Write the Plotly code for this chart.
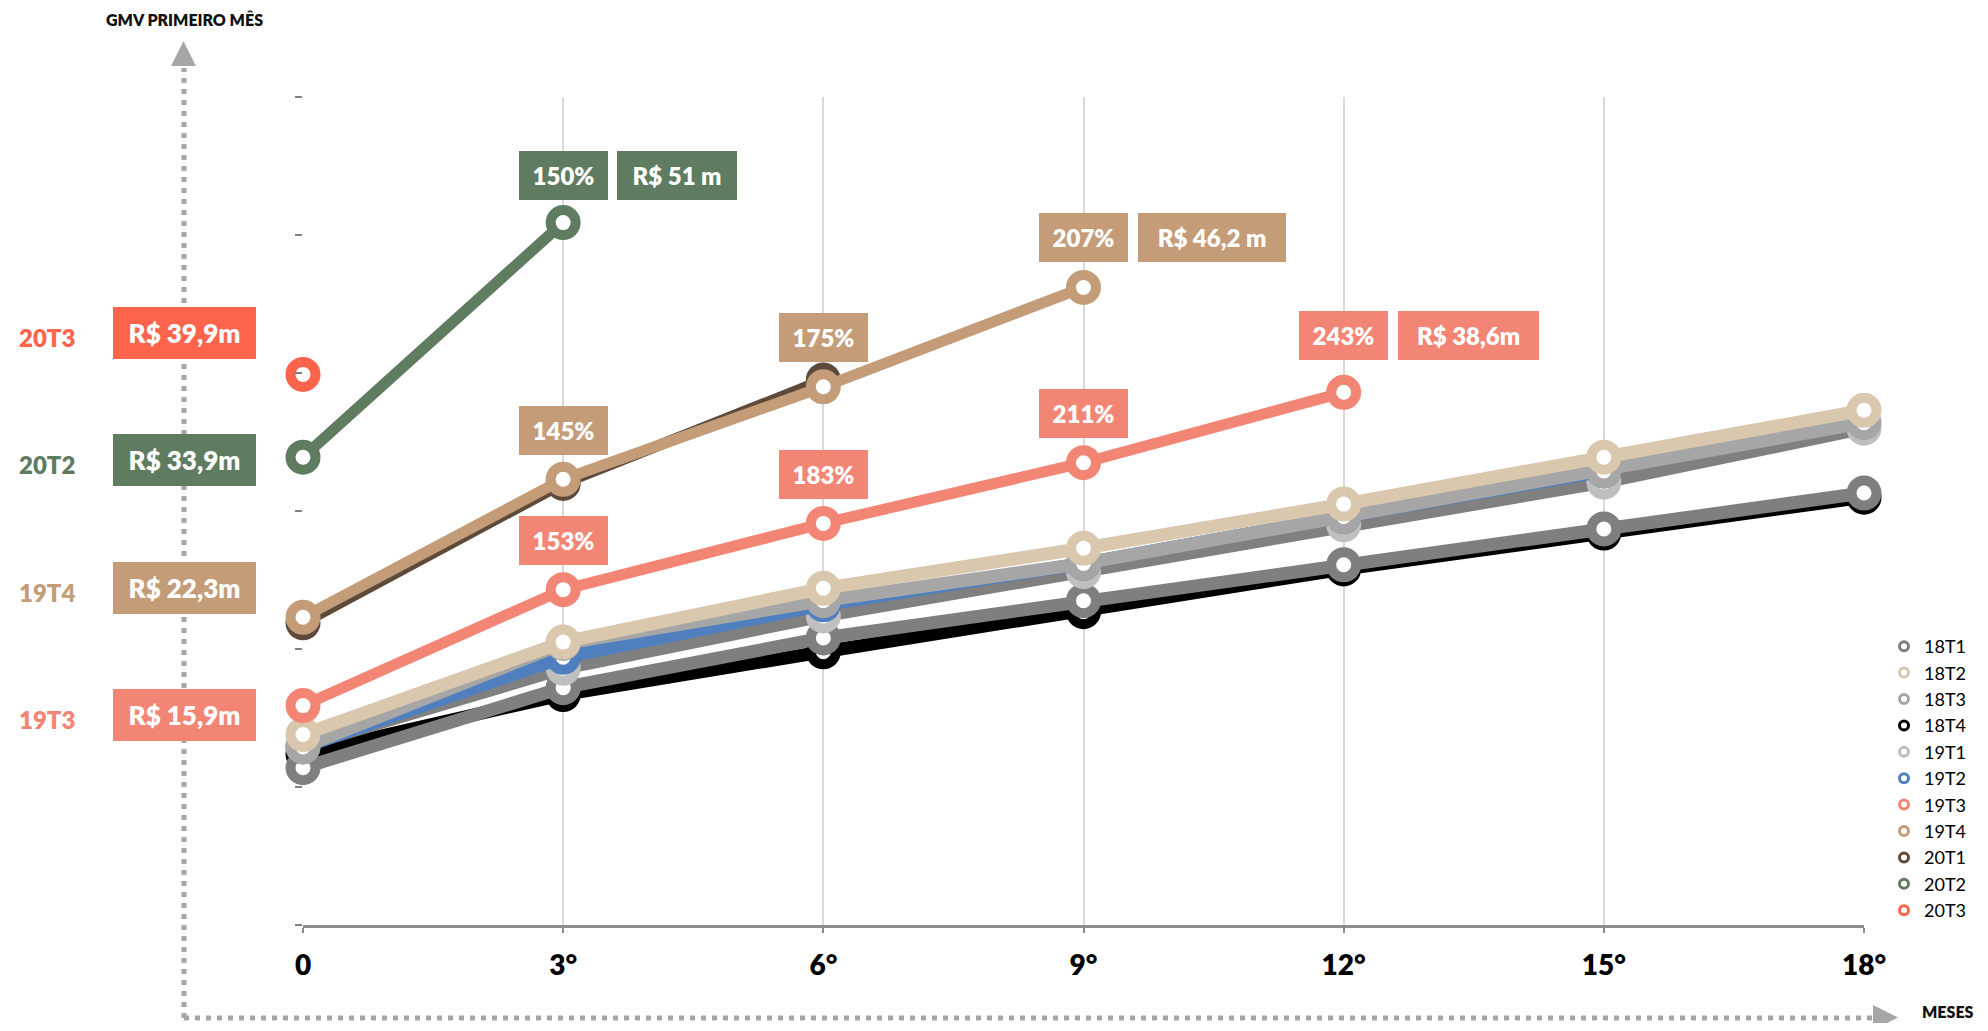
import plotly.graph_objects as go

# meses desde o primeiro mês
meses = [0, 3, 6, 9, 12, 15, 18]
mes_labels = ['0', '3°', '6°', '9°', '12°', '15°', '18°']

safras = ['18T1', '18T2', '18T3', '18T4', '19T1', '19T2', '19T3', '19T4', '20T1', '20T2', '20T3']

# GMV (R$ milhões) por safra
gmv_18T1 = [11.4, 17.2, 20.8, 23.5, 26.1, 28.7, 31.3]
gmv_18T2 = [13.8, 20.5, 24.4, 27.3, 30.5, 33.9, 37.3]
gmv_18T3 = [12.9, 20.4, 23.5, 26.2, 29.6, 32.9, 36.4]
gmv_18T4 = [12.4, 16.7, 19.8, 22.7, 25.8, 28.4, 31.0]
gmv_19T1 = [13.0, 18.6, 22.4, 25.6, 29.0, 32.1, 36.0]
gmv_19T2 = [12.9, 19.4, 23.2, 26.2, 29.6, 32.9]
gmv_19T3 = [15.9, 24.3, 29.1, 33.5, 38.6]
gmv_19T4 = [22.3, 32.3, 39.0, 46.2]
gmv_20T1 = [21.9, 32.0, 39.5]
gmv_20T2 = [33.9, 50.9]
gmv_20T3 = [39.9]

gmv = {'18T1': gmv_18T1, '18T2': gmv_18T2, '18T3': gmv_18T3, '18T4': gmv_18T4,
       '19T1': gmv_19T1, '19T2': gmv_19T2, '19T3': gmv_19T3, '19T4': gmv_19T4,
       '20T1': gmv_20T1, '20T2': gmv_20T2, '20T3': gmv_20T3}

cores = {'18T1': '#7f7f7f', '18T2': '#d9c7ae', '18T3': '#a6a6a6', '18T4': '#000000',
         '19T1': '#bfbfbf', '19T2': '#4f7fbf', '19T3': '#f38574', '19T4': '#c49c78',
         '20T1': '#5e4a3a', '20T2': '#5f7b60', '20T3': '#fe634c'}
# a linha da 19T1 sai mais escura que o marcador
cor_linha = dict(cores, **{'19T1': '#808080'})

# crescimento sobre o primeiro mês
pct_20T2 = ['150%']
pct_19T4 = ['145%', '175%', '207%']
pct_19T3 = ['153%', '183%', '211%', '243%']
ultimo_gmv = {'20T2': 'R$ 51 m', '19T4': 'R$ 46,2 m', '19T3': 'R$ 38,6m'}

# primeiro mês das safras em destaque
destaque = ['20T3', '20T2', '19T4', '19T3']
destaque_gmv = ['R$ 39,9m', 'R$ 33,9m', 'R$ 22,3m', 'R$ 15,9m']

ordem = ['18T4', '18T1', '19T1', '19T2', '18T3', '18T2', '20T1', '19T4', '19T3', '20T2', '20T3']

# a página tem 8px de margem no body
OFF = 8
W, H = 1988 - 2 * OFF, 1031 - 2 * OFF
L, R, T, B = 303, 1864, 97, 925


def px(x):
    return (x - L) / (R - L)


def py(y):
    return (B - y) / (B - T)


FONT = 'Lato'
fig = go.Figure()

for s in ordem:
    y = gmv[s]
    grossa = s[:2] == '18' or s in ('19T1', '19T2')
    fig.add_trace(go.Scatter(
        x=meses[:len(y)], y=y, mode='lines+markers', name=s, showlegend=False,
        cliponaxis=False,
        line=dict(color=cor_linha[s], width=13 if grossa else 11),
        marker=dict(symbol='circle', size=25, color='white',
                    line=dict(color=cores[s], width=10)),
    ))

for s in safras:
    fig.add_trace(go.Scatter(
        x=[None], y=[None], mode='markers', name=s,
        marker=dict(symbol='circle', size=9, color='white',
                    line=dict(color=cores[s], width=3)),
    ))

ann = []


def caixa(x, y, texto, cor, **kw):
    d = dict(x=x, y=y, text=texto, showarrow=False, bgcolor=cor,
             xanchor='center', yanchor='middle',
             borderpad=10, borderwidth=0,
             font=dict(family=FONT, size=24, color='white', weight=800))
    d.update(kw)
    ann.append(d)


sobe = {'20T2': 47, '19T4': 50, '19T3': 57}
larg = {'20T2': 100, '19T4': 128, '19T3': 121}
for s, pcts in (('20T2', pct_20T2), ('19T4', pct_19T4), ('19T3', pct_19T3)):
    y = gmv[s]
    n = len(y) - 1
    for i, p in enumerate(pcts):
        caixa(meses[i + 1], y[i + 1], p, cores[s], yshift=sobe[s] if i + 1 == n else 49,
              width=69, height=29)
    caixa(meses[n], y[n], ultimo_gmv[s], cores[s], yshift=sobe[s], xshift=54,
          xanchor='left', height=29, width=larg[s])

ycent = [333, 460, 588, 715]
for s, v, yc in zip(destaque, destaque_gmv, ycent):
    caixa(px(184), py(yc), v, cores[s], xref='paper', yref='paper',
          width=123, height=32, font=dict(family=FONT, size=26, color='white', weight=800))
    ann.append(dict(x=px(47), y=py(yc + 4), xref='paper', yref='paper', showarrow=False,
                    xanchor='center', yanchor='middle', text=s,
                    font=dict(family=FONT, size=24, color=cores[s], weight=800)))

ann.append(dict(x=px(184), y=py(OFF), xref='paper', yref='paper', showarrow=False,
                xanchor='center', yanchor='top', text='GMV PRIMEIRO MÊS',
                font=dict(family=FONT, size=16, color='#111', weight=800)))
ann.append(dict(x=px(1948), y=py(1031 - OFF), xref='paper', yref='paper', showarrow=False,
                xanchor='center', yanchor='bottom', text='MESES',
                font=dict(family=FONT, size=16, color='#111', weight=800)))

seta = '#a6a6a6'
shapes = [
    dict(type='line', xref='paper', yref='paper', x0=px(184), x1=px(184), y0=py(1018), y1=py(68),
         line=dict(color=seta, width=5, dash='5px,6px')),
    dict(type='line', xref='paper', yref='paper', x0=px(184), x1=px(1874), y0=py(1018), y1=py(1018),
         line=dict(color=seta, width=5, dash='5px,6px')),
    dict(type='path', xref='paper', yref='paper', fillcolor=seta, line=dict(width=0),
         path='M %f %f L %f %f L %f %f Z' % (px(171), py(66), px(196), py(66), px(183.5), py(41))),
    dict(type='path', xref='paper', yref='paper', fillcolor=seta, line=dict(width=0),
         path='M %f %f L %f %f L %f %f Z' % (px(1873), py(1005), px(1873), py(1030), px(1898), py(1017.5))),
]

fig.update_layout(
    width=W, height=H, template='none',
    margin=dict(l=L - OFF, r=W + OFF - R, t=T - OFF, b=H + OFF - B, autoexpand=False),
    plot_bgcolor='white', paper_bgcolor='white',
    font=dict(family=FONT, color='black'),
    annotations=ann, shapes=shapes,
    legend=dict(x=px(1884), y=py(628), xanchor='left', yanchor='top',
                font=dict(family=FONT, size=18, color='black'), bgcolor='rgba(0,0,0,0)'),
)
fig.update_xaxes(range=[0, 18], tickvals=meses, ticktext=mes_labels,
                 showgrid=True, gridcolor='#d9d9d9', gridwidth=2, zeroline=False,
                 showline=True, linecolor='#8c8c8c', linewidth=3,
                 ticks='outside', ticklen=5, tickcolor='#8c8c8c', tickwidth=2,
                 tickfont=dict(family=FONT, size=28, color='black', weight=800),
                 ticklabelstandoff=8)
fig.update_yaxes(range=[0, 60], tickvals=list(range(0, 61, 10)), showticklabels=False,
                 showgrid=False, zeroline=False, showline=False,
                 ticks='outside', ticklen=7, tickcolor='#808080', tickwidth=2)

fig.write_html("out.html")
